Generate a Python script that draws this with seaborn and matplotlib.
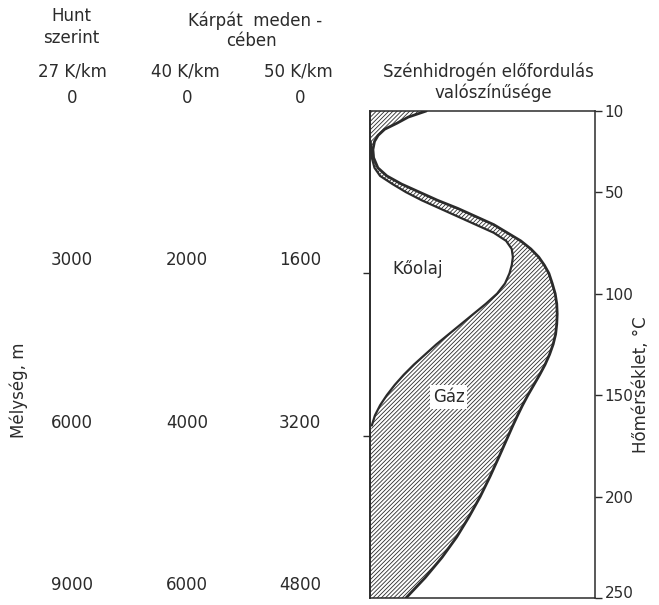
import numpy as np
import pandas as pd
import seaborn as sns
import matplotlib.pyplot as plt
from matplotlib.transforms import ScaledTranslation

# --- DATOS ---
temps = [10, 13, 16, 19, 22, 25, 29, 33, 38, 42, 46, 50, 54, 58, 62, 66, 70, 74,
         78, 82, 86, 90, 95, 100, 105, 110, 115, 120, 125, 130, 135, 140, 145, 150,
         155, 160, 165, 170, 175, 180, 190, 200, 210, 220, 230, 240, 250]
# felso (teljes) gorbe: gaz + olaj
total_prob = [0.25, 0.17, 0.12, 0.065, 0.036, 0.02, 0.013, 0.016, 0.035, 0.075, 0.14,
              0.22, 0.30, 0.39, 0.47, 0.55, 0.61, 0.67, 0.715, 0.75, 0.775, 0.795,
              0.81, 0.823, 0.83, 0.832, 0.83, 0.825, 0.814, 0.798, 0.778, 0.754, 0.728,
              0.702, 0.678, 0.656, 0.635, 0.615, 0.595, 0.575, 0.534, 0.49, 0.44, 0.385,
              0.32, 0.245, 0.16]
# also gorbe: koolaj
oil_prob = [0, 0, 0, 0, 0, 0.003, 0.005, 0.008, 0.02, 0.045, 0.10, 0.16, 0.23, 0.31,
            0.39, 0.47, 0.55, 0.605, 0.63, 0.635, 0.63, 0.62, 0.60, 0.565, 0.515, 0.46,
            0.405, 0.35, 0.295, 0.245, 0.195, 0.15, 0.11, 0.075, 0.045, 0.022, 0.008, 0,
            0, 0, 0, 0, 0, 0, 0, 0, 0]

temp_ticks = [10, 50, 100, 150, 200, 250]
depth_temps = [10, 90, 170, 250]
hunt_depths = ["0", "3000", "6000", "9000"]
karpat40_depths = ["0", "2000", "4000", "6000"]
karpat50_depths = ["0", "1600", "3200", "4800"]

df = pd.DataFrame({"T": temps, "total": total_prob, "oil": oil_prob})

# --- ESTILO ---
sns.set_theme(style="white")
plt.rcParams["font.family"] = ["DejaVu Sans"]
plt.rcParams["hatch.linewidth"] = 0.6
ink = "#2b2b2b"

W, H = 659, 605
fig = plt.figure(figsize=(W / 100, H / 100), dpi=100)
fig.patch.set_facecolor("white")
ax = fig.add_axes([370 / W, 1 - 598 / H, 225 / W, 487 / H])

# Gaz terulet (satirozott)
ax.fill_betweenx(df["T"], df["oil"], df["total"], facecolor="none",
                 hatch="////////", edgecolor=ink, linewidth=0)

sns.lineplot(data=df, x="total", y="T", orient="y", color=ink, linewidth=2.0, ax=ax)
sns.lineplot(data=df[df["oil"] > 0], x="oil", y="T", orient="y", color=ink,
             linewidth=1.6, ax=ax)

ax.set_xlim(0, 1)
ax.set_ylim(250, 10)
ax.set_xticks([])
ax.set_xlabel("")
ax.set_ylabel("")
ax.yaxis.tick_right()
ax.set_yticks(temp_ticks)
ax.tick_params(axis="y", right=True, left=False, direction="out", length=5,
               width=1, pad=2, labelsize=11, colors=ink)
for s in ax.spines.values():
    s.set_color(ink)
    s.set_linewidth(1.1)

# az also cimke ne logjon ki
last = ax.get_yticklabels()[-1]
last.set_transform(last.get_transform() + ScaledTranslation(0, 4 / 72, fig.dpi_scale_trans))

sec = ax.secondary_yaxis("left")
sec.set_yticks(depth_temps[1:3])
sec.set_yticklabels([])
sec.tick_params(direction="out", length=5, width=1, colors=ink)

ax.text(0.21, 88, "Kőolaj", fontsize=12, color=ink, ha="center", va="center")
ax.text(0.35, 151, "Gáz", fontsize=12, color=ink, ha="center", va="center",
        bbox=dict(facecolor="white", edgecolor="none", pad=2))

# --- MELYSEG OSZLOPOK ---
cols = [(72, hunt_depths), (187, karpat40_depths), (300, karpat50_depths)]
for xp, labels in cols:
    for t, lab in zip(depth_temps, labels):
        ax.annotate(lab, xy=(xp / W, t), xycoords=("figure fraction", "data"),
                    xytext=(0, 3), textcoords="offset points", ha="center",
                    va="bottom", fontsize=12, color=ink, annotation_clip=False)

def ftext(x, y, s, **kw):
    fig.text(x / W, 1 - y / H, s, ha="center", va="center", fontsize=12,
             color=ink, **kw)

ftext(71, 16, "Hunt")
ftext(71, 38, "szerint")
ftext(255, 21, "Kárpát  meden -")
ftext(251, 41, "cében")
ftext(72, 72, "27 K/km")
ftext(185, 72, "40 K/km")
ftext(298, 72, "50 K/km")
ftext(488, 72, "Szénhidrogén előfordulás")
ftext(493, 93, "valószínűsége")
ftext(19, 390, "Mélység, m", rotation=90)
ftext(641, 385, "Hőmérséklet, °C", rotation=90)

fig.savefig("out.png", dpi=100, facecolor="white")
